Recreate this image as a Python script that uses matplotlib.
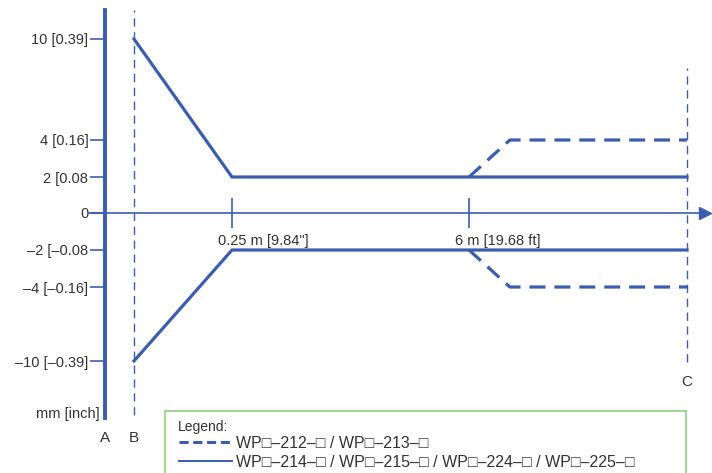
import matplotlib.pyplot as plt
import matplotlib.transforms as mtransforms
from matplotlib.lines import Line2D
from matplotlib.patches import Rectangle
import numpy as np

plt.rcParams['font.family'] = ['Liberation Sans', 'DejaVu Sans']

# positions along the beam (m), B = front of the sensor
pos_names = ['A', 'B', 'C']
pos_x = [-0.1, 0, 10]
x_ticks = [0.25, 6]
x_tick_labels = ['0.25 m [9.84"]', '6 m [19.68 ft]']

# deviation (mm)
y_ticks = [10, 4, 2, 0, -2, -4, -10]
y_tick_labels = ['10 [0.39]', '4 [0.16]', '2 [0.08', '0',
                 '\u20132 [\u20130.08', '\u20134 [\u20130.16]', '\u201310 [\u20130.39]']

# WP-214 / 215 / 224 / 225 (solid)
solid_x = [0, 0.25, 10]
solid_upper = [10, 2, 2]
solid_lower = [-10, -2, -2]
# WP-212 / 213 (dashed), wider beyond 6 m
dashed_x = [6, 6.75, 10]
dashed_upper = [2, 4, 4]
dashed_lower = [-2, -4, -4]

labels = ['WP\u25a1\u2013212\u2013\u25a1 / WP\u25a1\u2013213\u2013\u25a1',
          'WP\u25a1\u2013214\u2013\u25a1 / WP\u25a1\u2013215\u2013\u25a1 / WP\u25a1\u2013224\u2013\u25a1 / WP\u25a1\u2013225\u2013\u25a1']

blue = '#3a5db0'
green = '#94d384'
txt = '#333333'
W, H = 712, 473


def piecewise(kin, kout):
    kin = np.asarray(kin, float)
    kout = np.asarray(kout, float)

    def f(v):
        v = np.asarray(v, float)
        out = np.interp(v, kin, kout)
        s0 = (kout[1] - kout[0]) / (kin[1] - kin[0])
        s1 = (kout[-1] - kout[-2]) / (kin[-1] - kin[-2])
        out = np.where(v < kin[0], kout[0] + (v - kin[0]) * s0, out)
        out = np.where(v > kin[-1], kout[-1] + (v - kin[-1]) * s1, out)
        return out
    return f


# schematic (non-linear) axes
xk_data = [-0.1, 0, 0.25, 6, 10]
xk_px = [105, 134, 232, 469, 687]
yk_data = [-10, -4, -2, 0, 2, 4, 10]
yk_px = [H - p for p in [361, 287, 250, 213, 177, 140, 39]]

fx, ix = piecewise(xk_data, xk_px), piecewise(xk_px, xk_data)
fy, iy = piecewise(yk_data, yk_px), piecewise(yk_px, yk_data)

fig = plt.figure(figsize=(W / 100, H / 100), dpi=100)
ax = fig.add_axes([0, 0, 1, 1])
ax.set_xscale('function', functions=(fx, ix))
ax.set_yscale('function', functions=(fy, iy))
ax.set_xlim(float(ix(0)), float(ix(W)))
ax.set_ylim(float(iy(0)), float(iy(H)))
ax.patch.set_alpha(0)

ax.plot(solid_x, solid_upper, color=blue, lw=2.3, solid_joinstyle='miter')
ax.plot(solid_x, solid_lower, color=blue, lw=2.3, solid_joinstyle='miter')
ax.plot(dashed_x, dashed_upper, color=blue, lw=2.3, ls=(0, (5, 2.8)))
ax.plot(dashed_x, dashed_lower, color=blue, lw=2.3, ls=(0, (5, 2.8)))

# y axis = line A
for s in ['top', 'right']:
    ax.spines[s].set_visible(False)
ax.spines['left'].set_position(('data', pos_x[0]))
ax.spines['left'].set_color(blue)
ax.spines['left'].set_linewidth(2.8)
ax.spines['left'].set_bounds(float(iy(H - 418)), float(iy(H - 10)))
ax.set_yticks(y_ticks)
ax.set_yticklabels(y_tick_labels)
ax.tick_params(axis='y', direction='out', length=11, width=1.2, color=blue,
               labelsize=10.5, labelcolor=txt, pad=1)

# x axis through 0
ax.spines['bottom'].set_position(('data', 0))
ax.spines['bottom'].set_color(blue)
ax.spines['bottom'].set_linewidth(1.2)
ax.spines['bottom'].set_bounds(float(ix(88)), float(ix(706)))
ax.set_xticks(x_ticks)
ax.set_xticklabels(x_tick_labels)
ax.tick_params(axis='x', direction='inout', length=22, width=1.2, color=blue,
               labelsize=10.5, labelcolor=txt, pad=4)
shift = mtransforms.ScaledTranslation(-14 / 100, 0, fig.dpi_scale_trans)
for lab in ax.get_xticklabels():
    lab.set_horizontalalignment('left')
    lab.set_transform(lab.get_transform() + shift)
ax.plot(0.99, 0, marker='>', color=blue, markersize=9,
        transform=ax.get_yaxis_transform(), clip_on=False)

# reference lines B and C
ax.axvline(pos_x[1], ymin=1 - 415 / H, ymax=1 - 10 / H, color=blue, lw=1, ls=(0, (6, 4)))
ax.axvline(pos_x[2], ymin=1 - 362 / H, ymax=1 - 68 / H, color=blue, lw=1, ls=(0, (6, 4)))

name_y = [1 - 438 / H, 1 - 438 / H, 1 - 382 / H]
for name, x, y in zip(pos_names, pos_x, name_y):
    ax.text(x, y, name, transform=ax.get_xaxis_transform(), ha='center', va='center',
            fontsize=11, color=txt)
ax.text(100 / W, 1 - 414 / H, 'mm [inch]', transform=ax.transAxes, ha='right', va='center',
        fontsize=10.5, color=txt)

# legend box
fig.patches.append(Rectangle((165 / W, -0.05), (686 - 165) / W, 0.05 + 1 - 411 / H,
                             transform=fig.transFigure, fill=False, edgecolor=green, lw=1.3))
fig.text(178 / W, 1 - 427 / H, 'Legend:', ha='left', va='center', fontsize=10, color=txt)
handles = [Line2D([], [], color=blue, lw=2.2, ls=(0, (3, 1.5))),
           Line2D([], [], color=blue, lw=1.4)]
fig.legend(handles, labels, loc='upper left', bbox_to_anchor=(179 / W, 1 - 436 / H),
           frameon=False, fontsize=11.5, handlelength=3.3, handletextpad=0.3,
           labelspacing=0.25, borderpad=0, borderaxespad=0, labelcolor=txt)

fig.savefig('out.png', dpi=100)
